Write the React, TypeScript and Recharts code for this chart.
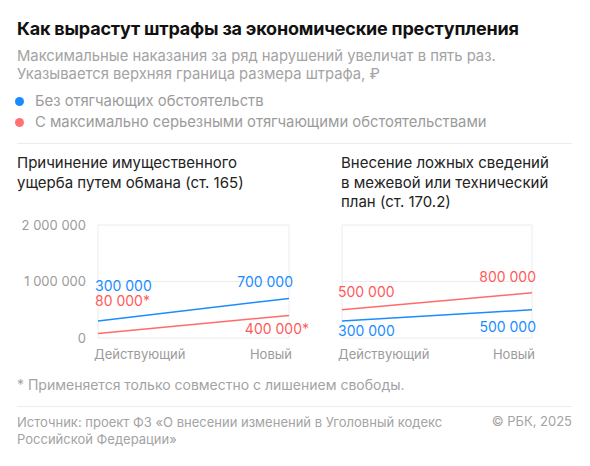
import React from 'react'
import { CartesianGrid, LabelList, Line, LineChart, XAxis, YAxis } from 'recharts'

const periods = ['Действующий', 'Новый']
const fraudBase = [300000, 700000]
const fraudMax = [80000, 400000]
const landBase = [300000, 500000]
const landMax = [500000, 800000]
const yTicks = [0, 1000000, 2000000]

const BLUE = '#1a8cff'
const RED = '#ff6b6b'
const GRID = '#ececec'
const GREY = '#9b9b9b'
const FONT = 'Inter, "Noto Sans", sans-serif'

const fraudData = periods.map((p, i) => ({ period: p, base: fraudBase[i], max: fraudMax[i] }))
const landData = periods.map((p, i) => ({ period: p, base: landBase[i], max: landMax[i] }))

// label offsets (dx, dy) from the line point, first point left-aligned, last right-aligned
const fraudPlace = {
  base: [{ dx: -3, dy: -36 }, { dx: 4, dy: -17 }],
  max: [{ dx: -3, dy: -33 }, { dx: 20, dy: 13 }],
}
const landPlace = {
  base: [{ dx: -4, dy: 9 }, { dx: 4, dy: 17 }],
  max: [{ dx: -4, dy: -18 }, { dx: 4, dy: -16 }],
}

const fmt = (v: number) => String(v).replace(/\B(?=(\d{3})+(?!\d))/g, ' ')

const makeLabel = (place: { dx: number; dy: number }[], color: string, suffix = '') =>
  (props: any) => {
    const { x, y, value, index } = props
    const p = place[index]
    return (
      <text
        x={x + p.dx}
        y={y + p.dy}
        fill={color}
        fontSize={14}
        fontFamily={FONT}
        textAnchor={index === 0 ? 'start' : 'end'}
        dominantBaseline="central"
      >
        {fmt(value) + suffix}
      </text>
    )
  }

const PeriodTick = (props: any) => {
  const { x, y, payload } = props
  const first = payload.value === periods[0]
  return (
    <text
      x={x + (first ? -4 : 3)}
      y={y + 8}
      fill={GREY}
      fontSize={13}
      fontFamily={FONT}
      textAnchor={first ? 'start' : 'end'}
      dominantBaseline="central"
    >
      {payload.value}
    </text>
  )
}

const Panel = ({
  data,
  place,
  maxSuffix,
  showY,
}: {
  data: any[]
  place: typeof fraudPlace
  maxSuffix: string
  showY: boolean
}) => (
  <LineChart
    width={showY ? 310 : 230}
    height={160}
    data={data}
    margin={showY ? { top: 15, right: 21, left: 10, bottom: 2 } : { top: 15, right: 18, left: 22, bottom: 2 }}
    style={{ overflow: 'visible' }}
  >
    <CartesianGrid stroke={GRID} />
    <XAxis
      dataKey="period"
      axisLine={false}
      tickLine={false}
      height={30}
      interval={0}
      tick={<PeriodTick />}
    />
    <YAxis
      hide={!showY}
      width={88}
      domain={[0, 2000000]}
      ticks={yTicks}
      axisLine={false}
      tickLine={false}
      tickSize={0}
      tickMargin={12}
      tickFormatter={fmt}
      tick={{ fill: GREY, fontSize: 13, fontFamily: FONT }}
    />
    <Line dataKey="base" stroke={BLUE} strokeWidth={1.5} dot={false} isAnimationActive={false}>
      <LabelList dataKey="base" content={makeLabel(place.base, BLUE)} />
    </Line>
    <Line dataKey="max" stroke={RED} strokeWidth={1.5} dot={false} isAnimationActive={false}>
      <LabelList dataKey="max" content={makeLabel(place.max, '#ff5a5a', maxSuffix)} />
    </Line>
  </LineChart>
)

const abs = (top: number, left: number, extra: React.CSSProperties = {}): React.CSSProperties => ({
  position: 'absolute',
  top,
  left,
  whiteSpace: 'nowrap',
  ...extra,
})

export default function App() {
  return (
    <div
      style={{
        position: 'absolute',
        left: 0,
        top: 0,
        width: 590,
        height: 466,
        background: '#fff',
        fontFamily: FONT,
        overflow: 'hidden',
      }}
    >
      <div style={abs(18, 17, { fontSize: 18, fontWeight: 700, lineHeight: '22px', color: '#111', letterSpacing: -0.2 })}>
        Как вырастут штрафы за экономические преступления
      </div>
      <div style={abs(48, 17, { fontSize: 14.8, lineHeight: '17.5px', color: '#a3a3a3' })}>
        Максимальные наказания за ряд нарушений увеличат в пять раз.
        <br />
        Указывается верхняя граница размера штрафа, ₽
      </div>
      <div style={abs(91, 15, { fontSize: 14.8, lineHeight: '21px', color: '#9b9b9b' })}>
        <div style={{ display: 'flex', alignItems: 'center' }}>
          <span style={{ width: 9, height: 9, borderRadius: 5, background: BLUE, marginRight: 11 }} />
          Без отягчающих обстоятельств
        </div>
        <div style={{ display: 'flex', alignItems: 'center' }}>
          <span style={{ width: 9, height: 9, borderRadius: 5, background: '#ff7373', marginRight: 11 }} />
          С максимально серьезными отягчающими обстоятельствами
        </div>
      </div>
      <div style={abs(143, 17, { width: 555, height: 1, background: '#ececec' })} />
      <div style={abs(153, 17, { fontSize: 15, lineHeight: '19.5px', color: '#222' })}>
        Причинение имущественного
        <br />
        ущерба путем обмана (ст. 165)
      </div>
      <div style={abs(153, 341, { fontSize: 15, lineHeight: '19.5px', color: '#222' })}>
        Внесение ложных сведений
        <br />
        в межевой или технический
        <br />
        план (ст. 170.2)
      </div>
      <div style={abs(210, 0)}>
        <Panel data={fraudData} place={fraudPlace} maxSuffix="*" showY />
      </div>
      <div style={abs(210, 320)}>
        <Panel data={landData} place={landPlace} maxSuffix="" showY={false} />
      </div>
      <div style={abs(376, 17, { fontSize: 14, lineHeight: '17px', color: '#a3a3a3' })}>
        * Применяется только совместно с лишением свободы.
      </div>
      <div style={abs(406, 17, { width: 555, height: 1, background: '#ececec' })} />
      <div style={abs(414, 17, { fontSize: 13, lineHeight: '17px', color: '#a3a3a3' })}>
        Источник: проект ФЗ «О внесении изменений в Уголовный кодекс
        <br />
        Российской Федерации»
      </div>
      <div style={abs(413, 0, { left: 'auto', right: 18, fontSize: 13, lineHeight: '17px', color: '#a3a3a3' })}>
        © РБК, 2025
      </div>
    </div>
  )
}
